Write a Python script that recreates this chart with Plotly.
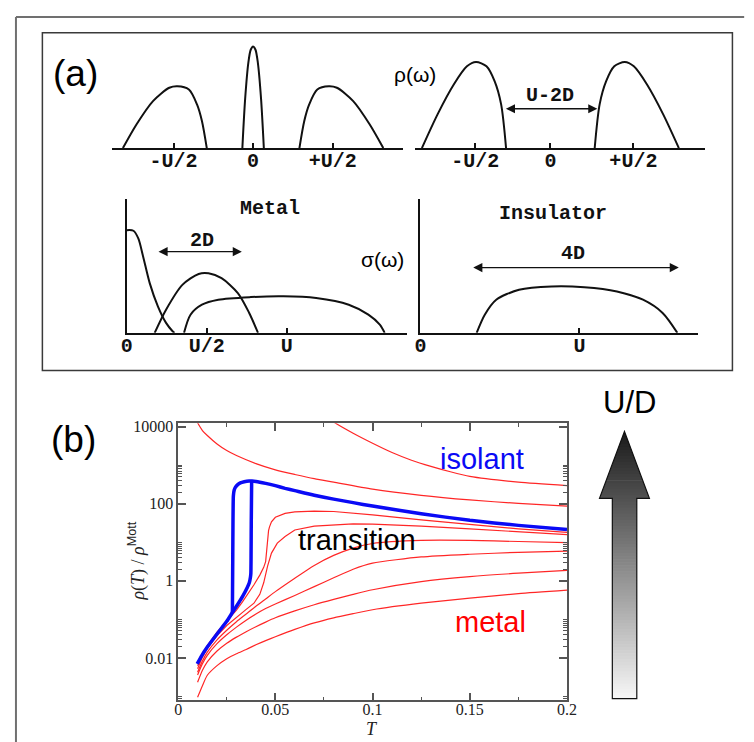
import plotly.graph_objects as go

W, H = 754, 742
OFF = 8  # browser body margin: figure's top-left lands at page (8, 8)

# ---------------- Panel (a) data (x in units of U/2) ----------------
dos_m_lhb_x = [-1.636, -1.464, -1.258, -1.053, -0.951, -0.807, -0.705, -0.643, -0.582]
dos_m_lhb_y = [0, 0.218, 0.43, 0.552, 0.566, 0.536, 0.40, 0.248, 0]
dos_m_qp_x = [-0.135, -0.1, -0.06, -0.03, 0, 0.03, 0.06, 0.1, 0.135]
dos_m_qp_y = [0, 0.45, 0.78, 0.9, 0.93, 0.9, 0.78, 0.45, 0]
dos_m_uhb_x = [0.582, 0.643, 0.705, 0.807, 0.951, 1.053, 1.258, 1.464, 1.636]
dos_m_uhb_y = [0, 0.248, 0.40, 0.536, 0.566, 0.552, 0.43, 0.218, 0]

dos_i_lhb_x = [-1.641, -1.441, -1.234, -1.066, -0.95, -0.816, -0.7125, -0.629, -0.566]
dos_i_lhb_y = [0, 0.309, 0.582, 0.748, 0.788, 0.748, 0.612, 0.40, 0]
dos_i_uhb_x = [0.566, 0.629, 0.7125, 0.816, 0.95, 1.066, 1.234, 1.441, 1.641]
dos_i_uhb_y = [0, 0.40, 0.612, 0.748, 0.788, 0.748, 0.582, 0.309, 0]

sig_m_drude_x = [0, 0.082, 0.143, 0.204, 0.286, 0.388, 0.49, 0.572, 0.596]
sig_m_drude_y = [0.939, 0.934, 0.864, 0.697, 0.455, 0.242, 0.091, 0.015, 0]
sig_m_mid_x = [0.348, 0.49, 0.694, 0.898, 1.021, 1.184, 1.388, 1.53, 1.64]
sig_m_mid_y = [0, 0.212, 0.439, 0.539, 0.545, 0.5, 0.364, 0.182, 0]
sig_m_hub_x = [0.715, 0.796, 0.939, 1.143, 1.551, 1.958, 2.367, 2.775, 3.02, 3.163, 3.224]
sig_m_hub_y = [0, 0.166, 0.257, 0.303, 0.327, 0.334, 0.318, 0.257, 0.166, 0.075, 0]

sig_i_x = [0.707, 0.809, 0.953, 1.24, 1.65, 2.062, 2.472, 2.8, 3.047, 3.232]
sig_i_y = [0, 0.166, 0.303, 0.394, 0.425, 0.418, 0.379, 0.303, 0.182, 0]

top_tick_labels = ["-U/2", "0", "+U/2"]
metal_sigma_ticks = ["0", "U/2", "U"]
ins_sigma_ticks = ["0", "U"]

# ---------------- Panel (b) data ----------------
T_grid = [0.01, 0.0125, 0.015, 0.02, 0.025, 0.03, 0.035, 0.04, 0.045, 0.05,
          0.06, 0.07, 0.08, 0.09, 0.1, 0.125, 0.15, 0.175, 0.2]
rho_F = [0.000955, 0.00191, 0.00355, 0.00631, 0.00955, 0.0129, 0.0166, 0.0219, 0.0282, 0.0355,
         0.0550, 0.0813, 0.110, 0.141, 0.178, 0.263, 0.355, 0.468, 0.575]
rho_E = [0.00234, 0.00479, 0.00794, 0.0151, 0.0240, 0.0347, 0.0479, 0.0646, 0.0851, 0.110,
         0.166, 0.240, 0.331, 0.447, 0.589, 0.955, 1.29, 1.58, 1.86]
rho_D = [0.00363, 0.00708, 0.0117, 0.0234, 0.0398, 0.0631, 0.0955, 0.138, 0.191, 0.251,
         0.417, 0.708, 1.20, 2.00, 2.88, 4.17, 4.90, 5.50, 5.89]
rho_C = [0.00427, 0.00832, 0.0141, 0.0295, 0.0525, 0.0871, 0.138, 0.219, 0.339, 0.525,
         1.17, 2.51, 4.57, 7.08, 9.33, 11.2, 11.2, 10.5, 9.77]

T_B = [0.01, 0.0125, 0.015, 0.02, 0.025, 0.03, 0.035, 0.039, 0.042, 0.044, 0.046, 0.048,
       0.051, 0.055, 0.06, 0.07, 0.08, 0.09, 0.1, 0.125, 0.15, 0.175, 0.2]
rho_B = [0.00525, 0.0105, 0.0178, 0.0380, 0.0692, 0.115, 0.182, 0.263, 0.447, 0.891, 2.40, 5.25,
         9.55, 14.1, 20.9, 26.3, 28.8, 30.2, 29.5, 26.3, 22.4, 18.6, 15.8]

T_A = [0.01, 0.0125, 0.015, 0.02, 0.025, 0.028, 0.03, 0.033, 0.036, 0.039, 0.042, 0.044,
       0.045, 0.0455, 0.046, 0.0465, 0.047, 0.048, 0.05, 0.055, 0.06, 0.07, 0.08, 0.09,
       0.1, 0.125, 0.15, 0.175, 0.2]
rho_A = [0.00631, 0.0120, 0.0209, 0.0468, 0.0891, 0.126, 0.174, 0.282, 0.468, 0.794, 1.41, 2.24,
         3.16, 5.62, 12.6, 20.0, 25.1, 33.9, 44.7, 56.2, 61.7, 64.6, 63.1, 57.5,
         51.3, 38.0, 28.8, 22.4, 18.2]

T_I2 = [0.009, 0.01, 0.0125, 0.015, 0.02, 0.025, 0.03, 0.04, 0.05, 0.06, 0.07, 0.08,
        0.1, 0.125, 0.15, 0.175, 0.2]
rho_I2 = [15800, 12600, 7940, 5890, 3550, 2400, 1780, 1100, 759, 575, 447, 363,
          240, 166, 126, 102, 87.1]

T_I1 = [0.075, 0.08, 0.09, 0.1, 0.11, 0.12, 0.13, 0.14, 0.15, 0.175, 0.2]
rho_I1 = [20000, 13200, 6760, 3720, 2140, 1350, 933, 676, 513, 363, 295]

T_blue_low = [0.0098, 0.012, 0.015, 0.02, 0.025, 0.0279, 0.03, 0.0333, 0.0355, 0.0366,
              0.0372, 0.0374, 0.0376, 0.0378]
rho_blue_low = [0.0070, 0.0112, 0.0191, 0.0417, 0.0891, 0.151, 0.219, 0.407, 0.661, 0.891,
                1.26, 1.58, 30.0, 380]
T_blue_up = [0.0279, 0.0281, 0.0284, 0.0288, 0.0295, 0.0305, 0.032, 0.034, 0.0365, 0.038, 0.04,
             0.045, 0.05, 0.055, 0.06, 0.07, 0.08, 0.09, 0.1, 0.125, 0.15, 0.175, 0.2]
rho_blue_up = [0.151, 5.0, 158, 224, 269, 309, 347, 372, 389, 389, 380,
               339, 295, 251, 219, 166, 132, 107, 87.1, 55.0, 37.2, 27.5, 21.4]

x_tickvals_b = [0, 0.05, 0.1, 0.15, 0.2]
x_ticktext_b = ["0", "0.05", "0.1", "0.15", "0.2"]
y_tickvals_b = [0.01, 1, 100, 10000]
y_ticktext_b = ["0.01", "1", "100", "10000"]


def PX(x):
    return (x - OFF) / W


def PY(y):
    return 1 - (y - OFF) / H


def dom_x(a, b):
    return [PX(a), PX(b)]


def dom_y(top, bottom):
    return [PY(bottom), PY(top)]


fig = go.Figure()

BLK = dict(color="#111111", width=2)


def add_black(x, y, ax):
    fig.add_trace(go.Scatter(x=x, y=y, mode="lines", line=dict(BLK, shape="spline", smoothing=0.8),
                             xaxis="x" + ax, yaxis="y" + ax, showlegend=False, hoverinfo="skip"))


add_black(dos_m_lhb_x, dos_m_lhb_y, "2")
add_black(dos_m_qp_x, dos_m_qp_y, "2")
add_black(dos_m_uhb_x, dos_m_uhb_y, "2")
add_black(dos_i_lhb_x, dos_i_lhb_y, "3")
add_black(dos_i_uhb_x, dos_i_uhb_y, "3")
add_black(sig_m_drude_x, sig_m_drude_y, "4")
add_black(sig_m_mid_x, sig_m_mid_y, "4")
add_black(sig_m_hub_x, sig_m_hub_y, "4")
add_black(sig_i_x, sig_i_y, "5")

RED = "rgba(255,0,0,0.85)"
for tx, ry, shp in [(T_grid, rho_F, "spline"), (T_grid, rho_E, "spline"), (T_grid, rho_D, "spline"),
                    (T_grid, rho_C, "spline"), (T_B, rho_B, "linear"), (T_A, rho_A, "linear"),
                    (T_I2, rho_I2, "spline"), (T_I1, rho_I1, "spline")]:
    fig.add_trace(go.Scatter(x=tx, y=ry, mode="lines",
                             line=dict(color=RED, width=1.2, shape=shp, smoothing=0.6),
                             showlegend=False, hoverinfo="skip"))
for tx, ry in [(T_blue_low, rho_blue_low), (T_blue_up, rho_blue_up)]:
    fig.add_trace(go.Scatter(x=tx, y=ry, mode="lines",
                             line=dict(color="#0a0af5", width=3.5, shape="spline", smoothing=0.5),
                             showlegend=False, hoverinfo="skip"))

mono = dict(family="Liberation Mono, Courier New, monospace", size=20, color="#111111", weight=700)
axA = dict(showgrid=False, zeroline=False, showline=True, linecolor="#111111", linewidth=2,
           ticks="inside", ticklen=5, tickwidth=1.5, tickcolor="#111111", tickfont=mono, fixedrange=True,
           ticklabelstandoff=-7)
hid = dict(visible=False, fixedrange=True)

frame_col = "#555555"
serif = dict(family="Liberation Serif, Times New Roman, serif", size=16, color="#222222")
minor_y = []
for e in [-4, -2, 0, 2]:
    for k in range(2, 11):
        minor_y.append(k * 10 ** e)

fig.update_layout(
    width=W, height=H, margin=dict(l=0, r=0, t=0, b=0),
    paper_bgcolor="white", plot_bgcolor="white",
    xaxis=dict(domain=dom_x(175.7, 573), range=[0, 0.2], tickvals=x_tickvals_b, ticktext=x_ticktext_b,
               showgrid=False, zeroline=False, showline=True, linecolor=frame_col, linewidth=1.5,
               mirror="allticks", ticks="inside", ticklen=8, tickwidth=1.5, tickcolor=frame_col,
               minor=dict(ticks="inside", ticklen=4, tickwidth=1, tickcolor=frame_col, dtick=0.025, tick0=0),
               tickfont=serif, anchor="y", ticklabelstandoff=-6),
    yaxis=dict(domain=dom_y(421, 700), type="log", range=[-3.10, 4.09], tickvals=y_tickvals_b,
               ticktext=y_ticktext_b, showgrid=False, zeroline=False, showline=True, linecolor=frame_col,
               linewidth=1.5, mirror="allticks", ticks="inside", ticklen=8, tickwidth=1.5, tickcolor=frame_col,
               minor=dict(ticks="inside", ticklen=4, tickwidth=1, tickcolor=frame_col, tickmode="array",
                          tickvals=minor_y),
               tickfont=serif, anchor="x"),
    xaxis2=dict(axA, domain=dom_x(108.3, 405.7), range=[-1.771, 1.887], tickvals=[-1, 0, 1],
                ticktext=top_tick_labels, anchor="y2"),
    yaxis2=dict(hid, domain=dom_y(34, 144), range=[0, 1], anchor="x2"),
    xaxis3=dict(axA, domain=dom_x(417.3, 714), range=[-1.734, 1.975], tickvals=[-0.96, 0, 1.06],
                ticktext=top_tick_labels, anchor="y3"),
    yaxis3=dict(hid, domain=dom_y(34, 144), range=[0, 1], anchor="x3"),
    xaxis4=dict(axA, domain=dom_x(123.3, 410), range=[0, 3.509], tickvals=[0, 1, 2],
                ticktext=metal_sigma_ticks, anchor="y4"),
    yaxis4=dict(domain=dom_y(195, 330), range=[0, 1.227], showgrid=False, zeroline=False, showline=True,
                linecolor="#111111", linewidth=2, showticklabels=False, ticks="", anchor="x4", fixedrange=True),
    xaxis5=dict(axA, domain=dom_x(423.3, 707.3), range=[0, 3.498], tickvals=[0, 2],
                ticktext=ins_sigma_ticks, anchor="y5"),
    yaxis5=dict(domain=dom_y(195, 330), range=[0, 1.227], showgrid=False, zeroline=False, showline=True,
                linecolor="#111111", linewidth=2, showticklabels=False, ticks="", anchor="x5", fixedrange=True),
)

ann = []


def txt(t, x, y, size, color="black", family="Liberation Sans, Arial, sans-serif", **kw):
    f = dict(family=family, size=size, color=color)
    if "weight" in kw:
        f["weight"] = kw.pop("weight")
    ann.append(dict(text=t, x=PX(x), y=PY(y), xref="paper", yref="paper", showarrow=False,
                    xanchor="center", yanchor="middle", font=f, **kw))


MONO = "Liberation Mono, Courier New, monospace"
txt("(a)", 70.5, 68.5, 37)
txt("(b)", 69, 437, 37)
txt("ρ(ω)", 418, 70, 21)
txt("σ(ω)", 384.5, 256, 21)
txt("U-2D", 555.7, 90.7, 20, family=MONO, weight=700, color="#111111")
txt("Metal", 270, 205, 20, family=MONO, weight=700, color="#111111")
txt("Insulator", 559, 210, 20, family=MONO, weight=700, color="#111111")
txt("2D", 200, 236.7, 20, family=MONO, weight=700, color="#111111")
txt("4D", 579, 250, 20, family=MONO, weight=700, color="#111111")
txt("isolant", 485.7, 457.5, 29, color="#0a0af5")
txt("transition", 358.7, 539, 29)
txt("metal", 495.3, 621, 29, color="#ff0000")
txt("U/D", 637, 400, 31)
txt("<i>T</i>", 374, 729, 18, family="Liberation Serif, Times New Roman, serif", color="#222222")
txt('<i>ρ</i>(<i>T</i>) / <i>ρ</i><sup><span style="font-family:Liberation Sans, Arial, sans-serif">Mott</span></sup>',
    134, 560, 18, family="Liberation Serif, Times New Roman, serif", color="#222222", textangle=-90)

# double-headed arrows in panel (a)
for ax_, x0, x1, yv in [("3", -0.5875, 0.6, 0.36), ("4", 0.377, 1.438, 0.743), ("5", 0.645, 3.251, 0.597)]:
    ann.append(dict(text="", x=x1, y=yv, ax=x0, ay=yv, xref="x" + ax_, yref="y" + ax_,
                    axref="x" + ax_, ayref="y" + ax_, showarrow=True, arrowside="end+start",
                    arrowhead=2, arrowsize=1.3, arrowwidth=1.4, arrowcolor="#111111",
                    standoff=0, startstandoff=0))

fig.update_layout(annotations=ann)

shapes = []
# outer frame (left + top)
shapes.append(dict(type="line", xref="paper", yref="paper", x0=PX(10), y0=PY(12), x1=PX(754), y1=PY(12),
                   line=dict(color="#707070", width=2)))
shapes.append(dict(type="line", xref="paper", yref="paper", x0=PX(10), y0=PY(12), x1=PX(10), y1=PY(742),
                   line=dict(color="#707070", width=2)))
# panel (a) box
shapes.append(dict(type="rect", xref="paper", yref="paper", x0=PX(37), y0=PY(28), x1=PX(742), y1=PY(368),
                   line=dict(color="#3a3a3a", width=1.5)))

# gradient U/D arrow
tipx, tipy = 631.7, 429.3
hb, hw = 496.7, 25.5
sx0, sx1, bot = 619.3, 644.3, 698.3


def gray(yc):
    t = (yc - tipy) / (bot - tipy)
    v = int(round(25 + 222 * t))
    return "rgb(%d,%d,%d)" % (v, v, v)


def hwid(y):
    return hw * (y - tipy) / (hb - tipy)


nh = 22
for i in range(nh):
    y0 = tipy + (hb - tipy) * i / nh
    y1 = min(tipy + (hb - tipy) * (i + 1) / nh + 0.7, hb + 0.7)
    w0, w1 = hwid(y0), min(hwid(y1), hw)
    path = "M %f,%f L %f,%f L %f,%f L %f,%f Z" % (
        PX(tipx - w0), PY(y0), PX(tipx + w0), PY(y0), PX(tipx + w1), PY(y1), PX(tipx - w1), PY(y1))
    shapes.append(dict(type="path", xref="paper", yref="paper", path=path,
                       fillcolor=gray((y0 + y1) / 2), line=dict(width=0)))
ns = 66
for i in range(ns):
    y0 = hb + (bot - hb) * i / ns
    y1 = min(hb + (bot - hb) * (i + 1) / ns + 0.7, bot)
    shapes.append(dict(type="rect", xref="paper", yref="paper", x0=PX(sx0), x1=PX(sx1), y0=PY(y0), y1=PY(y1),
                       fillcolor=gray((y0 + y1) / 2), line=dict(width=0)))
outline = "M %f,%f L %f,%f L %f,%f L %f,%f L %f,%f L %f,%f L %f,%f Z" % (
    PX(tipx), PY(tipy), PX(tipx + hw), PY(hb), PX(sx1), PY(hb), PX(sx1), PY(bot),
    PX(sx0), PY(bot), PX(sx0), PY(hb), PX(tipx - hw), PY(hb))
shapes.append(dict(type="path", xref="paper", yref="paper", path=outline, line=dict(color="#111111", width=1.2)))

fig.update_layout(shapes=shapes)
fig.write_html("out.html")
